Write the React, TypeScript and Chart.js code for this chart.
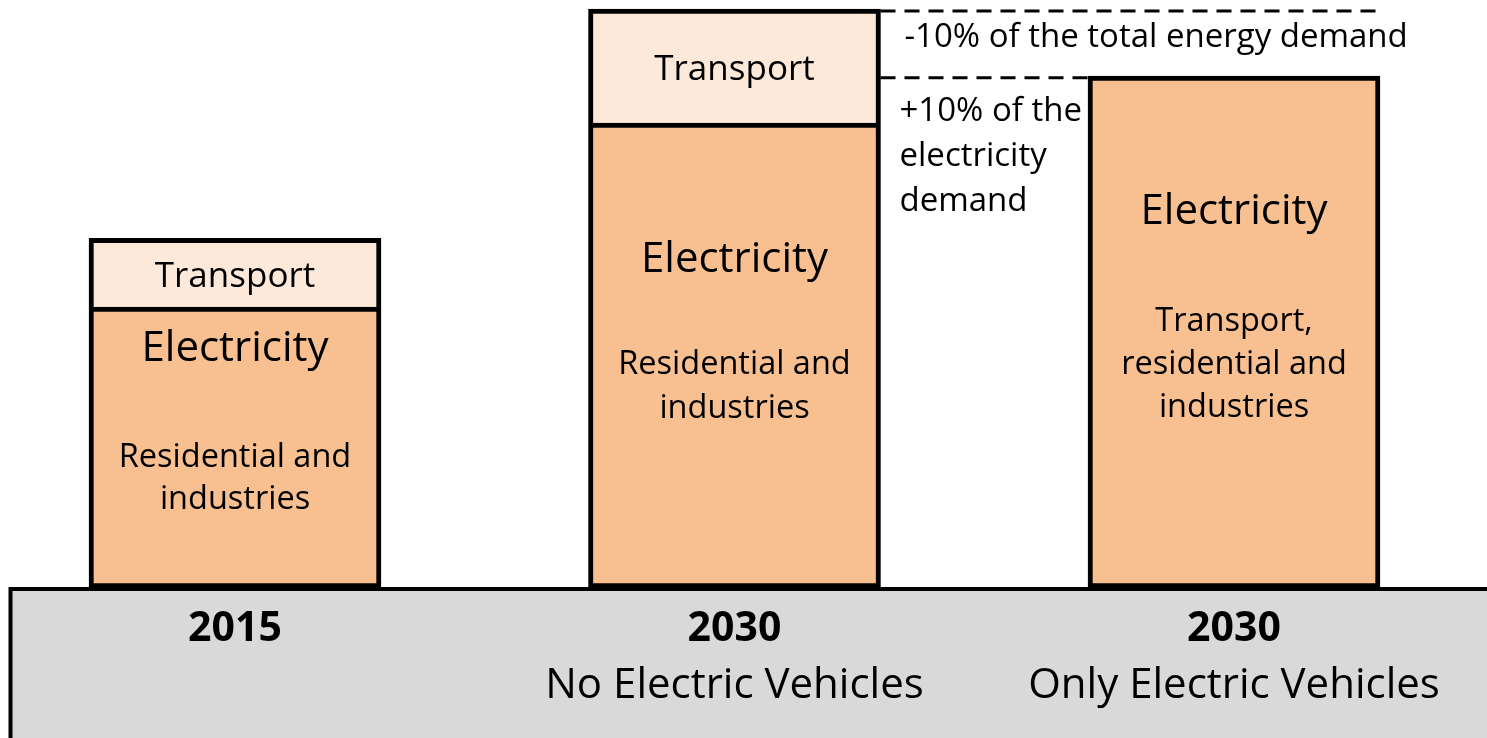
import { useEffect, useRef } from "react";
import { Chart, registerables } from "chart.js";

Chart.register(...registerables);

// ---- Data ----
const categories = ["2015", "2030", "2030"];
const categorySubtitles = ["", "No Electric Vehicles", "Only Electric Vehicles"];
const electricityValues = [48.5, 80.3, 88.4];
const transportValues: (number | null)[] = [11.9, 19.7, null];
const transportLabels = ["Transport", "Transport", ""];
const electricityTitles = ["Electricity", "Electricity", "Electricity"];
const electricityDetails = [
  ["Residential and", "industries"],
  ["Residential and", "industries"],
  ["Transport,", "residential and", "industries"],
];
const annotationTop = "-10% of the total energy demand";
const annotationSide = ["+10% of the", "electricity", "demand"];

const FONT = "'Open Sans', 'Noto Sans', sans-serif";

const overlay = {
  id: "overlay",
  afterDatasetsDraw(chart: any) {
    const ctx = chart.ctx as CanvasRenderingContext2D;
    const elecMeta = chart.getDatasetMeta(0);
    const transMeta = chart.getDatasetMeta(1);
    const base = chart.scales.y.getPixelForValue(0);
    ctx.save();

    // gray ground
    ctx.fillStyle = "#D9D9D9";
    ctx.fillRect(10, base + 1, chart.width, chart.height);
    ctx.strokeStyle = "#000";
    ctx.lineWidth = 4;
    ctx.beginPath();
    ctx.moveTo(10.5, chart.height + 5);
    ctx.lineTo(10.5, base + 1);
    ctx.lineTo(chart.width + 5, base + 1);
    ctx.stroke();

    ctx.fillStyle = "#000";
    ctx.textAlign = "center";
    ctx.textBaseline = "middle";

    const titleOffsets = [42, 137, 136];
    const detailOffsets = [151, 242, 246];
    const detailStep = [42, 44, 43];

    elecMeta.data.forEach((el: any, i: number) => {
      const x = el.x;
      // transport label
      if (transportValues[i] != null && transportLabels[i]) {
        const t = transMeta.data[i];
        ctx.font = `35px ${FONT}`;
        ctx.fillText(transportLabels[i], x, (t.y + t.base) / 2 + 4);
      }
      ctx.font = `42px ${FONT}`;
      ctx.fillText(electricityTitles[i], x, el.y + titleOffsets[i]);
      ctx.font = `32.5px ${FONT}`;
      electricityDetails[i].forEach((line, j) => {
        ctx.fillText(line, x, el.y + detailOffsets[i] + j * detailStep[i]);
      });
      // category labels
      ctx.font = `bold 41px ${FONT}`;
      ctx.fillText(categories[i], x, base + 41);
      if (categorySubtitles[i]) {
        ctx.font = `42px ${FONT}`;
        ctx.fillText(categorySubtitles[i], x, base + 98);
      }
    });

    // dashed annotation lines
    const b2 = elecMeta.data[1];
    const t2 = transMeta.data[1];
    const b3 = elecMeta.data[2];
    const right2 = b2.x + b2.width / 2;
    ctx.setLineDash([15, 9]);
    ctx.lineWidth = 3;
    ctx.beginPath();
    ctx.moveTo(right2, t2.y + 2);
    ctx.lineTo(b3.x + b3.width / 2 - 2, t2.y + 2);
    ctx.moveTo(right2, b3.y + 1.5);
    ctx.lineTo(b3.x - b3.width / 2, b3.y + 1.5);
    ctx.stroke();
    ctx.setLineDash([]);

    ctx.textAlign = "left";
    ctx.font = `33px ${FONT}`;
    ctx.fillText(annotationTop, right2 + 24, (t2.y + b3.y) / 2 - 5);
    annotationSide.forEach((line, j) => {
      ctx.fillText(line, right2 + 19, b3.y + 35 + j * 45);
    });

    ctx.restore();
  },
};

export default function App() {
  const ref = useRef<HTMLCanvasElement>(null);
  useEffect(() => {
    const canvas = ref.current!;
    const chart = new Chart(canvas, {
      type: "bar",
      data: {
        labels: categories,
        datasets: [
          {
            label: "Electricity",
            data: electricityValues,
            backgroundColor: "#F8C090",
            borderColor: "#000",
            borderWidth: 5,
            borderSkipped: false,
            barThickness: 292,
            clip: false,
            stack: "s",
          } as any,
          {
            label: "Transport",
            data: transportValues,
            backgroundColor: "#FCE9DA",
            borderColor: "#000",
            borderWidth: { top: 5, left: 5, right: 5, bottom: 0 },
            borderSkipped: false,
            barThickness: 292,
            clip: false,
            stack: "s",
          } as any,
        ],
      },
      options: {
        responsive: false,
        animation: false,
        devicePixelRatio: 1,
        layout: { padding: { left: 235, right: 253, top: 9, bottom: 150 } },
        scales: {
          x: { display: false, offset: false, stacked: true },
          y: { display: false, stacked: true, min: 0, max: 100 },
        },
        plugins: { legend: { display: false }, tooltip: { enabled: false } },
      },
      plugins: [overlay],
    });
    return () => chart.destroy();
  }, []);
  return (
    <div style={{ position: "fixed", left: 0, top: 0, width: 1487, height: 738, background: "#fff" }}>
      <canvas ref={ref} width={1487} height={738} style={{ display: "block" }} />
    </div>
  );
}
